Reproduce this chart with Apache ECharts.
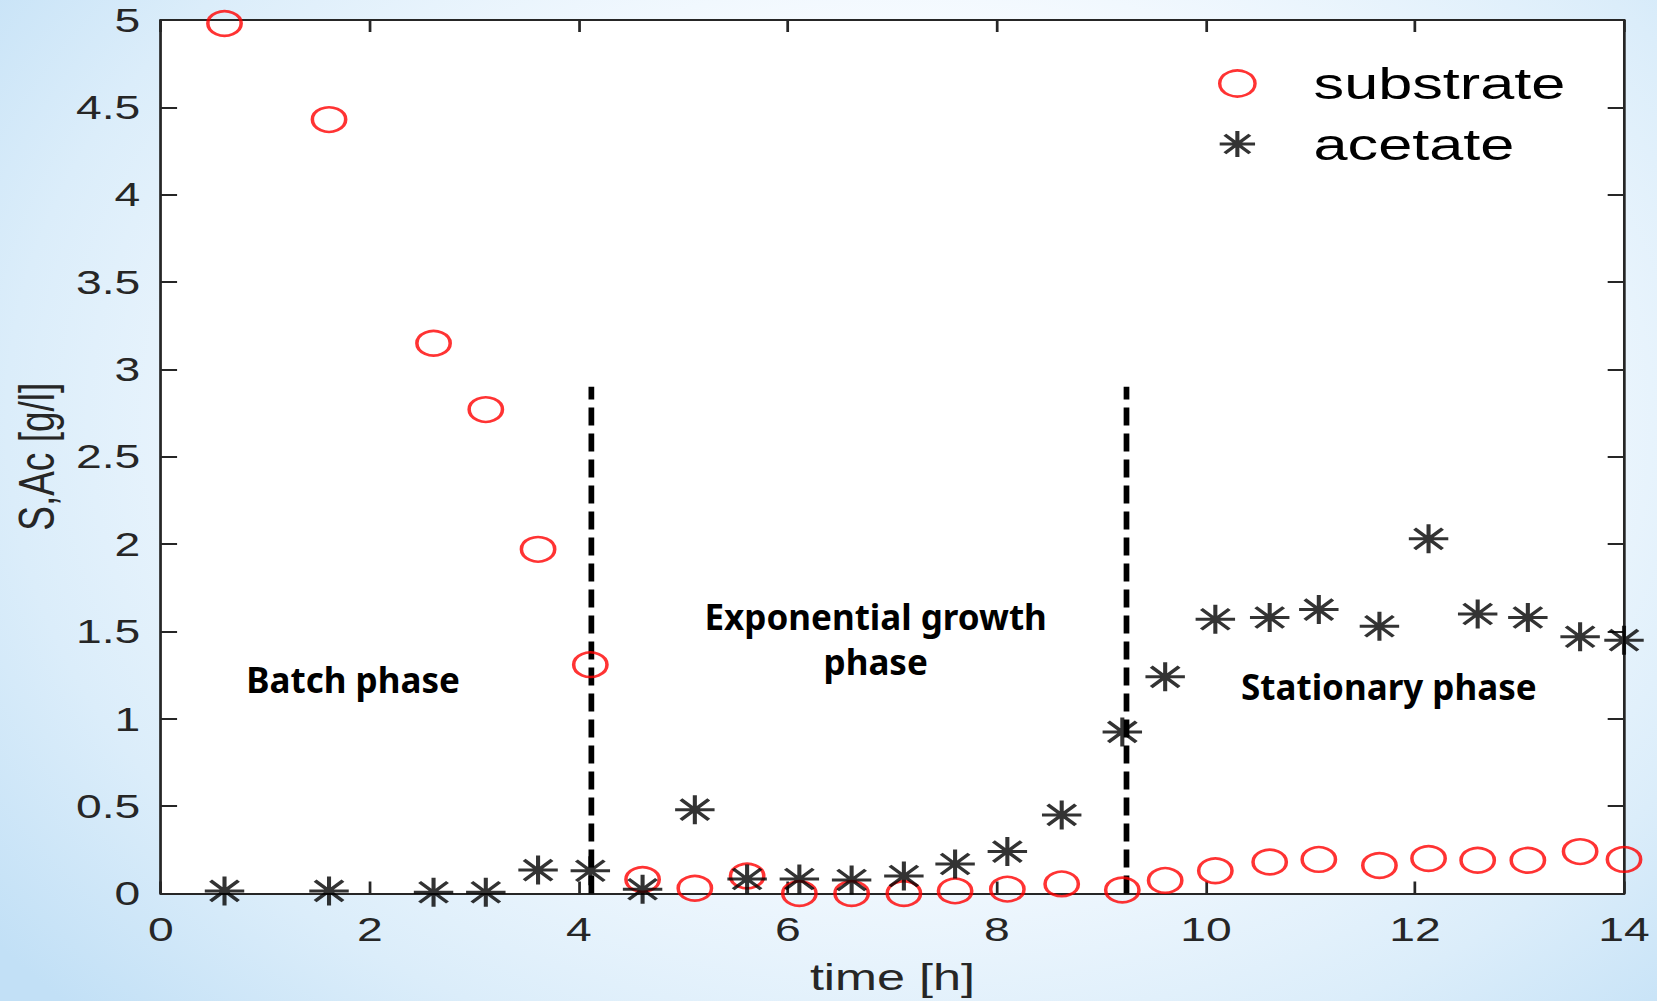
<!DOCTYPE html>
<html>
<head>
<meta charset="utf-8">
<script src="https://cdn.jsdelivr.net/npm/echarts@6/dist/echarts.min.js"></script>
<style>
  html, body { margin: 0; padding: 0; width: 1657px; height: 1001px; overflow: hidden; }
  body {
    background: radial-gradient(ellipse 70% 85% at 55% 42%, #ffffff 0%, #f7fbff 45%, #dbedfa 78%, #c2e0f6 100%);
  }
  /* the original figure is stretched sideways, so the chart is drawn narrower and widened */
  #chart { width: 1218px; height: 1001px; transform: scaleX(1.36043); transform-origin: 0 0; }
</style>
</head>
<body>
<div id="chart"></div>
<script>
// time points shared by both measurements
const times = [0.61, 1.61, 2.61, 3.11, 3.61, 4.11, 4.61, 5.11, 5.61, 6.11, 6.61, 7.11, 7.6,
  8.1, 8.62, 9.2, 9.61, 10.09, 10.61, 11.08, 11.66, 12.13, 12.6, 13.08, 13.58, 14.0];
const substrate = [4.98, 4.43, 3.15, 2.77, 1.97, 1.31, 0.08, 0.03, 0.10, 0.0, 0.0, 0.0, 0.015,
  0.025, 0.055, 0.02, 0.075, 0.13, 0.18, 0.195, 0.16, 0.2, 0.19, 0.19, 0.24, 0.195];
const acetate = [0.015, 0.015, 0.007, 0.007, 0.134, 0.13, 0.024, 0.48, 0.083, 0.083, 0.077, 0.10, 0.169,
  0.24, 0.45, 0.925, 1.24, 1.57, 1.58, 1.625, 1.53, 2.03, 1.60, 1.58, 1.47, 1.45];

// dashed phase boundaries
const phaseX = [4.12, 9.24];
const phaseTop = [2.9, 2.9];

// phase notes
const noteText = ['Batch phase', 'Exponential growth\nphase', 'Stationary phase'];
const noteX = [1.84, 6.84, 11.75];
const noteY = [1.225, 1.455, 1.185];

const xTicks = { min: 0, max: 14, interval: 2 };
const yTicks = { min: 0, max: 5, interval: 0.5 };

const S = 1657 / 1218;
const axisColor = '#262626';
const arial = '"Liberation Sans", Arial, sans-serif';
const starPath = 'path://M0,14 L28,14 M14,0 L14,28 M4.1,4.1 L23.9,23.9 M4.1,23.9 L23.9,4.1';

const chart = echarts.init(document.getElementById('chart'), null, { renderer: 'svg' });

function frameAxis(pos, extra) {
  return Object.assign({
    type: 'value',
    position: pos,
    axisLine: { show: true, onZero: false, lineStyle: { color: axisColor, width: 2 } },
    axisTick: { show: true, inside: true, length: 12, lineStyle: { color: axisColor, width: 2 } },
    axisLabel: { show: false },
    splitLine: { show: false }
  }, extra);
}

const labelStyle = { show: true, fontFamily: arial, fontSize: 34, color: axisColor };

const option = {
  animation: false,
  grid: {
    left: 159 / S, right: 33 / S, top: 20, bottom: 107.5,
    show: true, backgroundColor: '#ffffff', borderWidth: 0
  },
  legend: {
    orient: 'vertical',
    left: 1236 / S - 18.5,
    top: 56,
    itemWidth: 26,
    itemHeight: 26,
    itemGap: 15.5,
    selectedMode: false,
    textStyle: { fontFamily: arial, fontSize: 45, lineHeight: 45, color: '#000', padding: [0, 0, 0, 38] },
    data: [
      { name: 'substrate', icon: 'circle', itemStyle: { color: 'transparent', borderColor: '#ff0000', borderWidth: 2.5 } },
      { name: 'acetate', icon: starPath, itemStyle: { color: 'transparent', borderColor: '#000', borderWidth: 3 } }
    ]
  },
  xAxis: [
    frameAxis('bottom', Object.assign({
      name: 'time [h]', nameLocation: 'middle', nameGap: 65,
      nameTextStyle: { fontFamily: arial, fontSize: 37, color: axisColor },
      axisLabel: Object.assign({ margin: 19 }, labelStyle)
    }, xTicks)),
    frameAxis('top', Object.assign({}, xTicks))
  ],
  yAxis: [
    frameAxis('left', Object.assign({
      name: 'S,Ac [g/l]', nameLocation: 'middle', nameGap: 72,
      nameTextStyle: { fontFamily: arial, fontSize: 37, color: axisColor },
      axisLabel: Object.assign({ margin: 15 }, labelStyle)
    }, yTicks)),
    frameAxis('right', Object.assign({}, yTicks))
  ],
  series: [
    ...phaseX.map((x, i) => ({
      type: 'line',
      data: [[x, 0], [x, phaseTop[i]]],
      symbol: 'none',
      silent: true,
      z: 2,
      lineStyle: { color: '#000', width: 4.2, type: [18, 8] }
    })),
    {
      name: 'substrate',
      type: 'scatter',
      data: times.map((t, i) => [t, substrate[i]]),
      symbol: 'circle',
      symbolSize: 24.5,
      clip: false,
      z: 3,
      itemStyle: { color: 'transparent', borderColor: '#ff0000', borderWidth: 2.6 }
    },
    {
      name: 'acetate',
      type: 'scatter',
      data: times.map((t, i) => [t, acetate[i]]),
      symbol: starPath,
      symbolSize: 29,
      clip: false,
      z: 4,
      itemStyle: { color: 'transparent', borderColor: '#000', borderWidth: 3 }
    },
    {
      type: 'custom',
      silent: true,
      z: 5,
      data: noteX.map((x, i) => [x, noteY[i]]),
      renderItem: function (params, api) {
        const p = api.coord([api.value(0), api.value(1)]);
        return {
          type: 'text',
          x: p[0],
          y: p[1],
          scaleX: 1 / S,
          style: {
            text: noteText[params.dataIndex],
            fill: '#000',
            fontFamily: '"Noto Sans", sans-serif',
            fontWeight: 'bold',
            fontSize: 35,
            lineHeight: 45,
            align: 'center',
            verticalAlign: 'middle'
          }
        };
      }
    }
  ]
};

chart.setOption(option);
</script>
</body>
</html>
